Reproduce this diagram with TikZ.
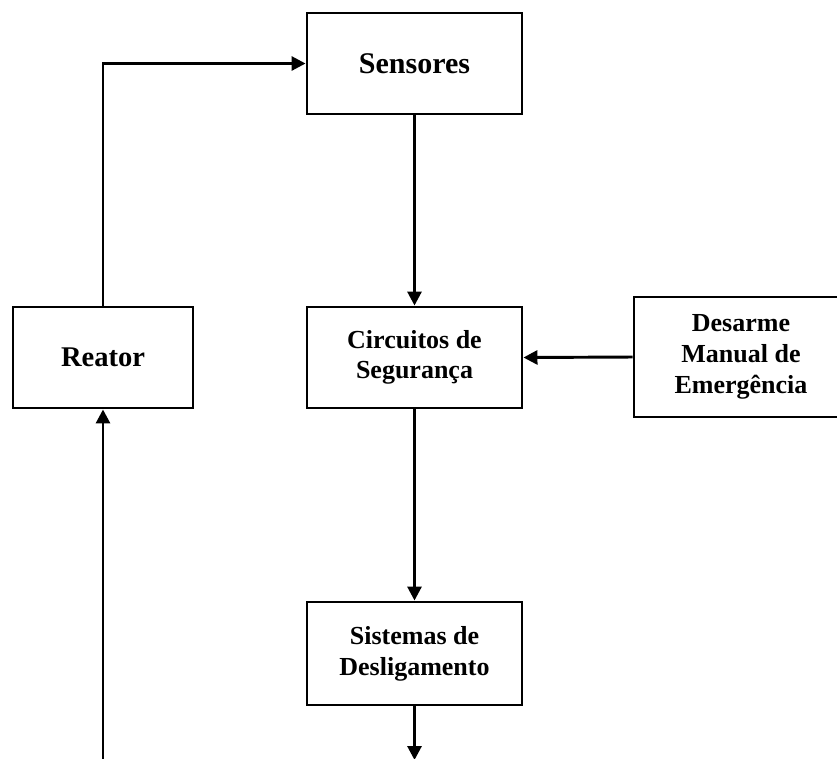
\documentclass[tikz,border=0pt]{standalone}
\usepackage{fontspec}
\setmainfont{Liberation Serif}
\usetikzlibrary{arrows.meta}
\begin{document}
\begin{tikzpicture}[x=0.75pt,y=-0.75pt,
  blk/.style={draw, line width=2.2pt, align=center, inner sep=0pt,
    font=\fontsize{19.5pt}{23pt}\selectfont\bfseries},
  conn/.style={line width=2.2pt, -{Triangle[length=10.5pt,width=10.5pt]}}]
\useasboundingbox (0,0) rectangle (837,758);
\clip (0,0) rectangle (837,758);
\node[blk, minimum width=161.25pt, minimum height=75.75pt,
  font=\fontsize{22.5pt}{26pt}\selectfont\bfseries] (sens) at (414.5,63.5) {Sensores};
\node[blk, minimum width=135pt, minimum height=75.75pt,
  font=\fontsize{21.4pt}{25pt}\selectfont\bfseries] (reat) at (103,357.5) {Reator};
\node[blk, minimum width=161.25pt, minimum height=75.75pt] (circ) at (414.5,357.5) {Circuitos de\\Segurança};
\node[blk, minimum width=160.5pt, minimum height=90pt] (desa) at (741,357) {Desarme\\Manual de\\Emergência};
\node[blk, minimum width=161.25pt, minimum height=77.25pt] (sist) at (414.5,653.5) {Sistemas de\\Desligamento};
\coordinate (outS) at (414.5,760);
\coordinate (inR) at (103,770);
\draw[conn] (reat.north) |- (sens.west);
\draw[conn] (sens.south) -- (circ.north);
\draw[conn] (desa.west) -- (circ.east);
\draw[conn] (circ.south) -- (sist.north);
\draw[conn] (sist.south) -- (outS);
\draw[conn] (inR) -- (reat.south);
\end{tikzpicture}
\end{document}
